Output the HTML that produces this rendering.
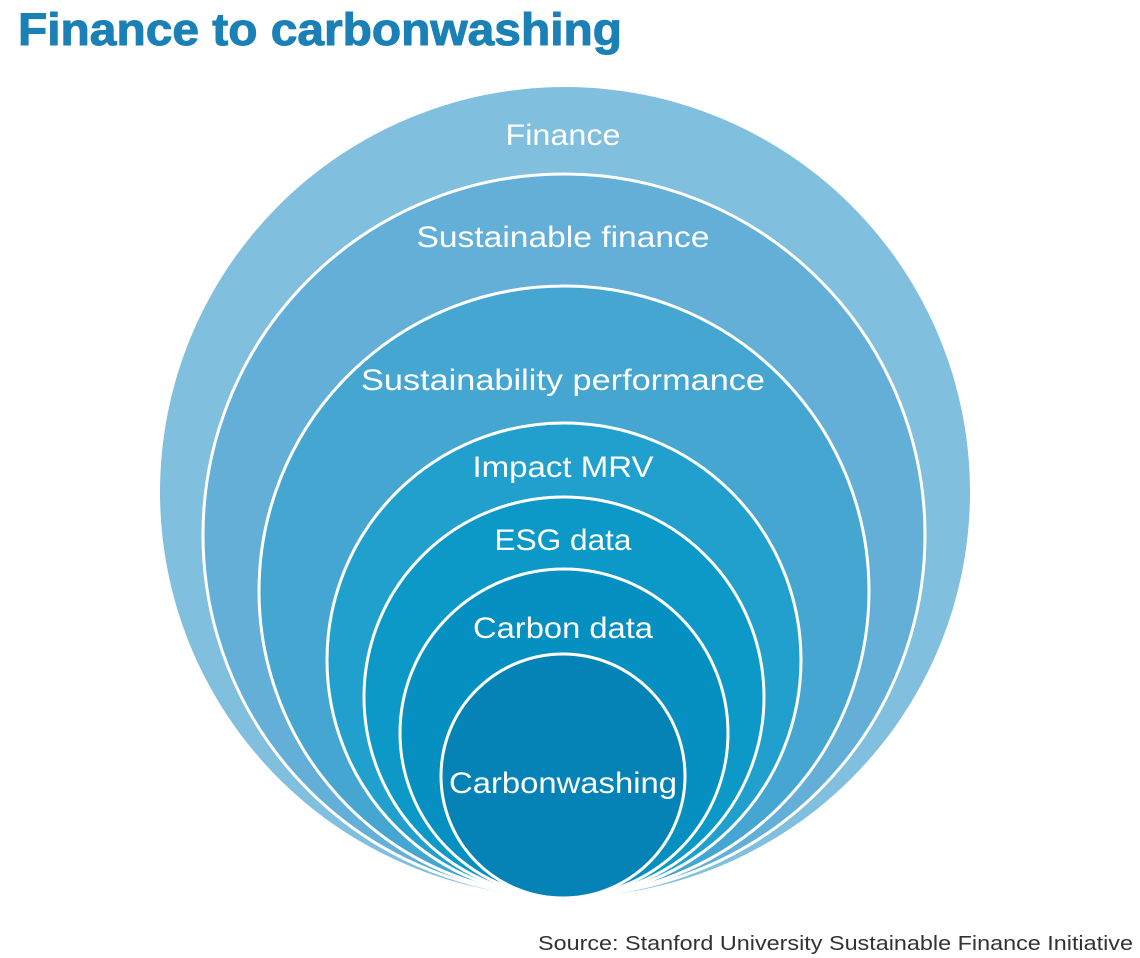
<!DOCTYPE html>
<html><head><meta charset="utf-8"><style>
html,body{margin:0;padding:0;background:#fff;}
svg{display:block;}
text{font-family:"Liberation Sans",sans-serif;}
</style></head><body>
<svg width="1140" height="958" viewBox="0 0 1140 958" xmlns="http://www.w3.org/2000/svg">
<text x="18" y="45" font-size="45" font-weight="bold" fill="#1a80b6" stroke="#1a80b6" stroke-width="1" textLength="604" lengthAdjust="spacingAndGlyphs">Finance to carbonwashing</text>
<g stroke="#fff" stroke-width="3">
<circle cx="565" cy="492" r="405" fill="#80bfde" stroke="none"/>
<circle cx="564" cy="535" r="361" fill="#63afd7"/>
<circle cx="564" cy="591" r="305" fill="#45a6d2"/>
<circle cx="564" cy="660" r="237" fill="#22a0cd"/>
<circle cx="564" cy="697" r="200" fill="#0c99c8"/>
<circle cx="564" cy="733" r="164" fill="#068fc1"/>
<circle cx="563" cy="776" r="122" fill="#0583b7"/>
</g>
<g fill="#fff" font-size="30" text-anchor="middle">
<text x="563" y="145" textLength="115" lengthAdjust="spacingAndGlyphs">Finance</text>
<text x="563" y="247" textLength="293" lengthAdjust="spacingAndGlyphs">Sustainable finance</text>
<text x="563" y="390" textLength="404" lengthAdjust="spacingAndGlyphs">Sustainability performance</text>
<text x="563" y="477" textLength="181" lengthAdjust="spacingAndGlyphs">Impact MRV</text>
<text x="563" y="550" textLength="137" lengthAdjust="spacingAndGlyphs">ESG data</text>
<text x="563" y="638" textLength="180" lengthAdjust="spacingAndGlyphs">Carbon data</text>
<text x="563" y="793" textLength="228" lengthAdjust="spacingAndGlyphs">Carbonwashing</text>
</g>
<text x="1133" y="950" font-size="20" fill="#333" text-anchor="end" textLength="595" lengthAdjust="spacingAndGlyphs">Source: Stanford University Sustainable Finance Initiative</text>
</svg>
</body></html>
